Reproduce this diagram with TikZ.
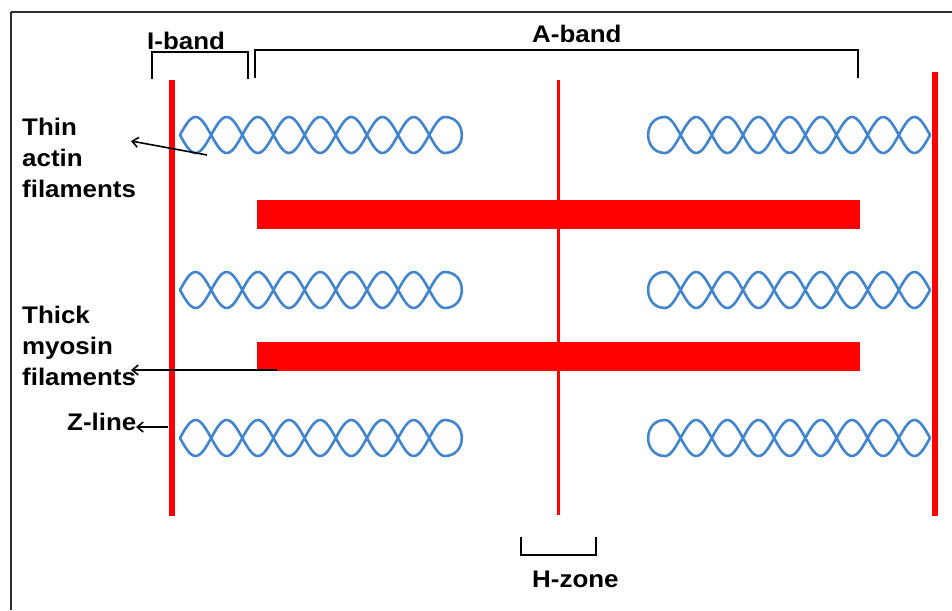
\documentclass[tikz,border=0pt]{standalone}
\usepackage{fontspec}
\setmainfont{Liberation Sans}
\usepackage{graphicx}
\usetikzlibrary{arrows.meta}
\definecolor{actinblue}{RGB}{66,133,204}
\definecolor{framegray}{RGB}{45,45,45}
% label text: bold, slightly widened, first-line baseline as reference
\newcommand\lbltext[1]{\scalebox{1.08}[1]{\begin{tabular}[t]{@{}l@{}}#1\end{tabular}}}
% one actin filament anchored at the left Z-line, closed loop at its free end
\newcommand\actinL[1]{%
  \draw[actin] plot[domain=180:444.8,samples=140,smooth] (\x,{#1-18*sin((\x-180)*5.778)})
    .. controls (467.5,#1-18) and (467.5,#1+18) .. (444.8,#1+18)
    -- plot[domain=444.8:180,samples=140,smooth] (\x,{#1+18*sin((\x-180)*5.778)});}
% one actin filament anchored at the right Z-line, closed loop at its free end
\newcommand\actinR[1]{%
  \draw[actin] plot[domain=930:665,samples=140,smooth] (\x,{#1-18*cos((\x-665)*5.773)})
    .. controls (642.5,#1-18) and (642.5,#1+18) .. (665,#1+18)
    -- plot[domain=665:930,samples=140,smooth] (\x,{#1+18*cos((\x-665)*5.773)});}
\begin{document}
\begin{tikzpicture}[x=1pt,y=-1pt,
  actin/.style={draw=actinblue,line width=2.6pt,line join=round,line cap=round},
  bracket/.style={draw=black,line width=2.4pt},
  pointer/.style={draw=black,line width=1.6pt,-{Straight Barb[length=6pt,width=10pt]}},
  lbl/.style={font=\fontsize{24}{31}\selectfont\bfseries,inner sep=0pt,anchor=base west},
  zline/.style={fill=red}]
\useasboundingbox (0,0) rectangle (952,610);
\fill[white] (0,0) rectangle (952,610);

% outer frame (top and left edges)
\coordinate (frTL) at (11,12);
\draw[framegray,line width=2.4pt] (frTL) -- ++(941,0) (frTL) -- ++(0,598);

% I-band and A-band brackets
\coordinate (ibL) at (152,79); \coordinate (ibR) at (248,79);
\draw[bracket] (ibL) -- ++(0,-27) -| (ibR);
\coordinate (abL) at (255,78); \coordinate (abR) at (858,78);
\draw[bracket] (abL) -- ++(0,-28) -| (abR);
% H-zone bracket
\coordinate (hzL) at (521,537); \coordinate (hzR) at (596,537);
\draw[bracket] (hzL) -- ++(0,18) -| (hzR);

% Z-lines and M-line
\fill[zline] (169,80) rectangle (175,516);
\fill[zline] (932,72) rectangle (938,516);
\fill[zline] (557,80) rectangle (559.5,515);

% thick myosin filaments
\fill[red] (257,200) rectangle (860,229);
\fill[red] (257,342) rectangle (860,371);

% thin actin filaments
\actinL{135}\actinL{290}\actinL{438}
\actinR{135}\actinR{290}\actinR{438}

% labels
\node[lbl] (iband) at (147,49) {\lbltext{I-band}};
\node[lbl] (aband) at (532,43) {\lbltext{A-band}};
\node[lbl] (thin) at (22,135) {\lbltext{Thin\\actin\\filaments}};
\node[lbl] (thick) at (22,323) {\lbltext{Thick\\myosin\\filaments}};
\node[lbl] (zlab) at (67,430) {\lbltext{Z-line}};
\node[lbl] (hzone) at (532,587) {\lbltext{H-zone}};

% pointers
\coordinate (actinpt) at (207,155); \coordinate (thintip) at (131,141);
\coordinate (myopt) at (277,370); \coordinate (myotip) at (131,370);
\coordinate (zpt) at (168,427); \coordinate (ztip) at (136,427);
\draw[pointer] (actinpt) -- (thintip);
\draw[pointer] (myopt) -- (myotip);
\draw[pointer] (zpt) -- (ztip);
\end{tikzpicture}
\end{document}
